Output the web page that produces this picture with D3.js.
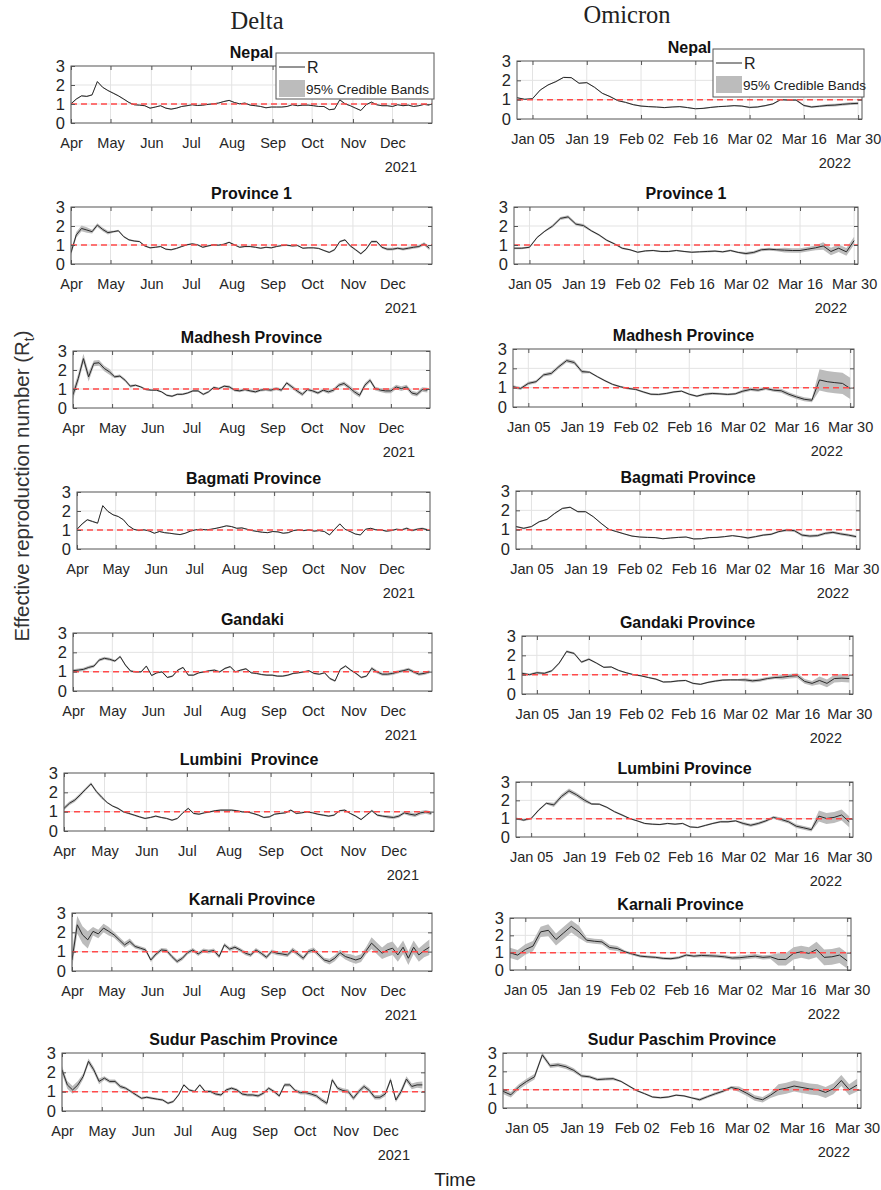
<!DOCTYPE html>
<html>
<head>
<meta charset="utf-8">
<script src="https://cdn.jsdelivr.net/npm/d3@7"></script>
<style>
  body { margin: 0; background: #fff; }
  text { font-family: "Liberation Sans", Arial, sans-serif; }
</style>
</head>
<body>
<svg id="fig" width="881" height="1190"></svg>
<script>
// ---- labels ----
const deltaTitles = ["Nepal", "Province 1", "Madhesh Province", "Bagmati Province", "Gandaki",
  "Lumbini  Province", "Karnali Province", "Sudur Paschim Province"];
const omicronTitles = ["Nepal", "Province 1", "Madhesh Province", "Bagmati Province", "Gandaki Province",
  "Lumbini Province", "Karnali Province", "Sudur Paschim Province"];
const deltaMonthLabels = ["Apr", "May", "Jun", "Jul", "Aug", "Sep", "Oct", "Nov", "Dec"];
const omicronTickLabels = ["Jan 05", "Jan 19", "Feb 02", "Feb 16", "Mar 02", "Mar 16", "Mar 30"];
const yTicks = [0, 1, 2, 3];
const legendLabels = ["R", "95% Credible Bands"];

// ---- Delta wave: R_t every 4 days from 1 Apr 2021 ----
const deltaNepal = [1.01,1.26,1.43,1.40,1.48,2.18,1.88,1.71,1.57,1.43,1.26,1.08,0.96,0.94,0.91,0.78,0.84,0.91,0.78,0.73,0.78,0.87,0.91,0.96,0.92,0.94,0.98,1.01,1.05,1.13,1.19,1.08,1.01,1.05,0.94,0.91,0.87,0.80,0.84,0.84,0.84,0.87,0.96,0.91,0.94,0.94,0.91,0.87,0.87,0.70,0.73,1.22,1.01,0.91,0.78,0.66,0.96,1.10,0.96,0.91,0.91,0.87,0.96,0.91,0.94,0.87,0.91,0.98,0.94];
const deltaP1 = [0.60,1.53,1.87,1.79,1.70,2.05,1.82,1.65,1.70,1.75,1.44,1.27,1.21,1.18,0.95,0.85,0.88,0.92,0.78,0.75,0.82,0.92,1.01,1.06,1.01,0.88,0.95,1.01,0.99,1.04,1.14,1.01,0.88,0.92,0.92,0.88,0.83,0.88,0.85,0.92,0.97,0.99,0.95,0.97,0.83,0.85,0.85,0.82,0.71,0.61,0.75,1.18,1.27,0.95,0.75,0.54,0.78,1.18,1.18,0.88,0.78,0.78,0.83,0.78,0.83,0.88,0.92,1.06,0.83];
const deltaMadhesh = [0.70,1.55,2.60,1.64,2.35,2.38,2.08,1.90,1.64,1.68,1.46,1.15,1.20,1.11,0.97,0.94,0.94,0.85,0.67,0.62,0.72,0.72,0.79,0.90,0.90,0.72,0.85,1.08,1.02,1.15,1.11,0.94,0.90,0.97,0.90,0.85,0.94,0.97,0.94,1.02,0.94,1.32,1.11,0.90,0.72,0.97,0.90,0.79,0.94,0.85,0.94,1.20,1.29,1.08,0.85,0.67,1.20,1.46,1.02,0.94,0.90,0.90,1.11,1.02,1.11,0.79,0.72,0.97,0.94];
const deltaBagmati = [1.04,1.32,1.54,1.45,1.36,2.28,1.98,1.80,1.71,1.54,1.22,1.04,0.97,1.01,0.95,0.83,0.92,0.86,0.83,0.79,0.76,0.83,0.94,1.01,1.04,1.01,1.04,1.09,1.15,1.22,1.18,1.09,1.11,1.04,0.97,0.92,0.88,0.86,0.92,0.90,0.83,0.86,0.97,1.01,0.97,1.01,0.94,0.97,0.92,0.74,1.04,1.32,1.04,0.92,0.79,0.74,1.04,1.09,1.01,1.01,0.94,0.97,1.04,1.01,1.09,0.97,1.04,1.08,1.01];
const deltaGandaki = [1.05,1.08,1.12,1.22,1.29,1.60,1.69,1.64,1.55,1.78,1.34,1.03,0.99,0.99,1.29,0.80,0.94,0.99,0.70,0.77,1.08,1.22,0.82,0.82,0.94,0.99,1.05,1.08,0.99,1.17,1.26,0.99,1.08,1.15,0.94,0.91,0.85,0.82,0.82,0.77,0.77,0.82,0.91,0.94,0.99,1.05,0.91,0.87,0.94,0.65,0.52,1.12,1.29,1.08,0.91,0.70,0.77,1.17,0.99,0.87,0.87,0.91,0.99,1.05,1.12,0.99,0.87,0.91,0.99];
const deltaLumbini = [1.17,1.43,1.60,1.87,2.16,2.44,2.04,1.74,1.47,1.29,1.17,0.99,0.91,0.82,0.73,0.65,0.70,0.77,0.70,0.65,0.56,0.65,0.94,1.17,0.91,0.87,0.94,0.99,1.05,1.08,1.08,1.08,1.05,0.99,0.98,0.91,0.82,0.70,0.73,0.87,0.91,0.94,1.08,0.91,0.94,0.99,0.94,0.87,0.82,0.77,0.82,1.05,1.08,0.91,0.77,0.59,0.82,1.05,0.82,0.77,0.73,0.70,0.77,0.94,0.87,0.82,0.94,0.99,0.91];
const deltaKarnali = [0.57,2.39,1.87,1.61,2.05,1.92,2.22,2.05,1.87,1.61,1.35,1.53,1.27,1.18,1.09,0.57,0.88,1.09,1.06,0.75,0.49,0.66,0.95,1.09,0.88,1.06,1.01,1.06,0.75,1.35,1.13,1.23,1.09,0.92,0.83,1.09,0.92,0.71,1.01,0.92,0.88,0.83,1.09,0.88,0.66,1.01,1.09,0.83,0.57,0.49,0.66,0.95,0.75,0.66,0.57,0.66,1.06,1.44,1.18,0.92,1.09,1.18,0.83,1.23,0.66,1.23,0.83,1.06,1.23];
const deltaSudur = [2.13,1.35,1.09,1.35,1.79,2.57,2.13,1.53,1.70,1.53,1.53,1.27,1.18,1.01,0.83,0.66,0.71,0.66,0.61,0.57,0.40,0.49,0.83,1.35,1.09,1.01,1.35,1.01,1.01,0.88,0.83,1.09,1.18,1.09,0.88,0.83,0.83,0.78,0.92,1.18,1.01,0.78,1.35,1.35,1.06,0.95,0.95,0.88,0.78,0.57,0.40,1.61,1.18,1.06,1.01,0.66,1.01,1.27,1.06,0.71,0.71,0.88,1.61,0.57,1.01,1.65,1.27,1.35,1.35];

// Delta credible-band half widths, one value per 15-day block
const deltaNepalW   = [.03,.03,.03,.03,.03,.03,.03,.03,.03,.03,.03,.03,.03,.03,.03,.03,.03,.03,.03];
const deltaP1W      = [.15,.10,.05,.04,.04,.04,.04,.04,.04,.04,.04,.04,.04,.05,.05,.06,.07,.08,.10];
const deltaMadheshW = [.25,.15,.08,.05,.05,.05,.06,.06,.07,.07,.08,.10,.08,.10,.12,.10,.12,.12,.12];
const deltaBagmatiW = [.04,.03,.03,.03,.03,.03,.03,.03,.03,.03,.03,.03,.03,.03,.03,.03,.04,.05,.05];
const deltaGandakiW = [.08,.08,.06,.04,.04,.04,.04,.04,.04,.04,.04,.04,.04,.05,.05,.08,.08,.08,.08];
const deltaLumbiniW = [.10,.08,.04,.04,.04,.04,.04,.04,.04,.04,.04,.04,.04,.04,.04,.06,.08,.10,.10];
const deltaKarnaliW = [.45,.22,.15,.10,.10,.10,.10,.10,.10,.10,.10,.12,.12,.15,.20,.30,.35,.35,.40];
const deltaSudurW   = [.20,.15,.10,.08,.06,.06,.06,.08,.08,.08,.08,.08,.10,.10,.12,.12,.12,.15,.18];

// ---- Omicron wave: R_t every 2 days from 1 Jan 2022 (Sudur Paschim from 30 Dec 2021) ----
const omiNepal = [1.10,1.02,1.05,1.50,1.76,1.93,2.15,2.14,1.85,1.88,1.64,1.33,1.16,0.95,0.86,0.74,0.67,0.64,0.62,0.59,0.62,0.64,0.59,0.53,0.55,0.60,0.64,0.66,0.69,0.67,0.60,0.62,0.69,0.78,1.00,0.98,0.98,0.70,0.62,0.66,0.70,0.72,0.76,0.79,0.81];
const omiP1 = [0.83,0.83,0.88,1.40,1.73,2.00,2.40,2.48,2.10,2.02,1.75,1.53,1.25,1.06,0.83,0.75,0.62,0.69,0.71,0.66,0.66,0.71,0.66,0.62,0.64,0.66,0.68,0.64,0.71,0.61,0.55,0.61,0.75,0.78,0.75,0.73,0.71,0.71,0.78,0.85,0.95,0.66,0.83,0.64,1.23];
const omiMadhesh = [1.05,0.96,1.22,1.31,1.66,1.74,2.09,2.40,2.30,1.83,1.80,1.57,1.36,1.17,1.05,0.96,0.91,0.78,0.66,0.65,0.70,0.78,0.82,0.66,0.56,0.66,0.70,0.68,0.65,0.68,0.82,0.91,0.87,0.96,0.87,0.84,0.66,0.52,0.40,0.35,1.40,1.31,1.26,1.22,0.96];
const omiBagmati = [1.16,1.07,1.16,1.41,1.53,1.84,2.10,2.16,1.93,1.93,1.67,1.33,1.02,0.90,0.78,0.67,0.62,0.60,0.59,0.53,0.57,0.60,0.62,0.52,0.53,0.59,0.60,0.64,0.69,0.64,0.57,0.64,0.72,0.76,0.90,0.98,0.95,0.72,0.67,0.69,0.81,0.86,0.78,0.72,0.64];
const omiGandaki = [1.07,1.00,1.10,1.07,1.20,1.60,2.20,2.10,1.65,1.80,1.60,1.38,1.40,1.22,1.10,1.00,0.94,0.85,0.77,0.62,0.63,0.68,0.70,0.55,0.50,0.60,0.67,0.72,0.73,0.73,0.73,0.68,0.72,0.80,0.85,0.87,0.92,0.95,0.65,0.55,0.70,0.55,0.80,0.82,0.80];
const omiLumbini = [1.01,0.92,1.01,1.47,1.84,1.75,2.21,2.52,2.30,2.02,1.80,1.79,1.62,1.38,1.20,1.01,0.88,0.74,0.70,0.68,0.74,0.70,0.74,0.55,0.52,0.63,0.74,0.83,0.83,0.88,0.74,0.64,0.74,0.88,1.07,0.96,0.83,0.59,0.50,0.40,1.14,1.01,1.07,1.20,0.83];
const omiKarnali = [0.99,0.86,1.18,1.38,2.20,2.29,1.76,2.14,2.52,2.20,1.72,1.66,1.62,1.30,1.24,1.05,0.92,0.80,0.76,0.73,0.67,0.65,0.71,0.86,0.80,0.84,0.82,0.80,0.76,0.69,0.71,0.76,0.80,0.73,0.76,0.61,0.61,0.96,1.05,0.96,1.18,0.73,0.76,0.86,0.53];
const omiSudur = [0.91,0.72,1.15,1.45,1.70,2.90,2.30,2.35,2.25,2.05,1.75,1.70,1.55,1.58,1.60,1.45,1.20,0.95,0.78,0.60,0.56,0.60,0.70,0.66,0.55,0.45,0.62,0.78,0.92,1.12,1.02,0.80,0.55,0.45,0.70,1.00,1.08,1.20,1.12,1.04,1.00,0.85,1.05,1.50,1.00,1.25];

// Omicron credible-band half widths, one value per 10-day block
const omiNepalW   = [.03,.03,.03,.03,.03,.03,.04,.05,.07];
const omiP1W      = [.05,.08,.05,.04,.04,.05,.08,.12,.20];
const omiMadheshW = [.08,.10,.05,.05,.05,.06,.08,.10,.55];
const omiBagmatiW = [.04,.04,.03,.03,.03,.03,.05,.07,.07];
const omiGandakiW = [.06,.06,.04,.04,.04,.05,.08,.12,.20];
const omiLumbiniW = [.06,.12,.05,.04,.04,.05,.08,.10,.30];
const omiKarnaliW = [.30,.35,.15,.08,.08,.10,.12,.35,.45];
const omiSudurW   = [.15,.12,.08,.05,.05,.08,.15,.30,.30,.35];

const deltaSeries = [deltaNepal, deltaP1, deltaMadhesh, deltaBagmati, deltaGandaki, deltaLumbini, deltaKarnali, deltaSudur];
const deltaWidths = [deltaNepalW, deltaP1W, deltaMadheshW, deltaBagmatiW, deltaGandakiW, deltaLumbiniW, deltaKarnaliW, deltaSudurW];
const omiSeries = [omiNepal, omiP1, omiMadhesh, omiBagmati, omiGandaki, omiLumbini, omiKarnali, omiSudur];
const omiWidths = [omiNepalW, omiP1W, omiMadheshW, omiBagmatiW, omiGandakiW, omiLumbiniW, omiKarnaliW, omiSudurW];

// ---- layout: plot boxes [left, right, top, bottom] ----
const deltaBoxes = [[71,432,66,123],[71,432,207,264],[73,430,351,408],[77,430,492,549],
  [73,432,633,691],[64,434,773,831],[72,432,913,971],[62,425,1053,1111]];
const omiBoxes = [[517,862,61,119],[514,858,207,264],[513,854,349,407],[516,860,491,549],
  [522,853,636,694],[516,853,782,837],[510,851,918,970],[503,861,1053,1108]];

const deltaStart = new Date(2021, 3, 1), deltaEnd = new Date(2021, 11, 31);
const omiStart = new Date(2022, 0, 1), omiEnd = new Date(2022, 2, 31);
const omiSudurStart = new Date(2021, 11, 30);
const deltaTicks = d3.timeMonth.range(new Date(2021, 3, 1), new Date(2021, 11, 2));
const omiTicks = d3.timeDay.range(new Date(2022, 0, 5), new Date(2022, 2, 31), 14);

const svg = d3.select("#fig");
const defs = svg.append("defs");
const axisColor = "#555";
let clipCount = 0;

function drawPanel(box, title, vals, wids, start, end, step, block, ticks, labels, year, yearOffset) {
  const [x0, x1, y0, y1] = box;
  const x = d3.scaleTime().domain([start, end]).range([x0, x1]);
  const y = d3.scaleLinear().domain([0, 3]).range([y1, y0]);
  const g = svg.append("g");
  const cid = "clip" + (clipCount++);
  defs.append("clipPath").attr("id", cid).append("rect")
    .attr("x", x0).attr("y", y0).attr("width", x1 - x0).attr("height", y1 - y0);

  // grid
  g.append("g").selectAll("line").data(ticks).join("line")
    .attr("x1", d => x(d)).attr("x2", d => x(d)).attr("y1", y0).attr("y2", y1)
    .attr("stroke", "#e3e3e3").attr("stroke-width", 1);
  g.append("g").selectAll("line").data([1, 2]).join("line")
    .attr("x1", x0).attr("x2", x1).attr("y1", d => y(d)).attr("y2", d => y(d))
    .attr("stroke", "#e3e3e3").attr("stroke-width", 1);

  const pts = vals.map((v, i) => ({
    t: d3.timeDay.offset(start, step * i), v, w: wids[Math.floor(step * i / block)]
  }));
  const plot = g.append("g").attr("clip-path", `url(#${cid})`);
  plot.append("path").datum(pts)
    .attr("d", d3.area().x(d => x(d.t)).y0(d => y(d.v - d.w)).y1(d => y(d.v + d.w)))
    .attr("fill", "#bcbcbc");
  plot.append("path").datum(pts)
    .attr("d", d3.line().x(d => x(d.t)).y(d => y(d.v)))
    .attr("fill", "none").attr("stroke", "#2a2a2a").attr("stroke-width", 1);
  plot.append("line").attr("x1", x0).attr("x2", x1).attr("y1", y(1)).attr("y2", y(1))
    .attr("stroke", "#ff4a4a").attr("stroke-width", 1.5).attr("stroke-dasharray", "6,4");

  // axes with inward ticks
  const styleAxis = a => {
    a.attr("font-family", null).attr("font-size", null);
    a.select(".domain").remove();
    a.selectAll(".tick line").attr("stroke", axisColor);
    a.selectAll(".tick text").attr("fill", "#262626");
  };
  g.append("g").attr("transform", `translate(0,${y1})`)
    .call(d3.axisBottom(x).tickValues(ticks).tickFormat((d, i) => labels[i])
      .tickSizeInner(-4).tickSizeOuter(0).tickPadding(15))
    .call(styleAxis).selectAll("text").attr("font-size", 14.5);
  g.append("g").attr("transform", `translate(0,${y0})`)
    .call(d3.axisTop(x).tickValues(ticks).tickFormat("").tickSizeInner(-4).tickSizeOuter(0))
    .call(styleAxis);
  g.append("g").attr("transform", `translate(${x0},0)`)
    .call(d3.axisLeft(y).tickValues(yTicks).tickFormat(d3.format("d"))
      .tickSizeInner(-4).tickSizeOuter(0).tickPadding(6))
    .call(styleAxis).selectAll("text").attr("font-size", 16.5);
  g.append("g").attr("transform", `translate(${x1},0)`)
    .call(d3.axisRight(y).tickValues(yTicks).tickFormat("").tickSizeInner(-4).tickSizeOuter(0))
    .call(styleAxis);

  g.append("rect").attr("x", x0).attr("y", y0).attr("width", x1 - x0).attr("height", y1 - y0)
    .attr("fill", "none").attr("stroke", axisColor).attr("stroke-width", 1);

  g.append("text").attr("x", (x0 + x1) / 2).attr("y", y0 - 8)
    .attr("text-anchor", "middle").attr("font-size", 16).attr("font-weight", "bold")
    .attr("fill", "#111").style("white-space", "pre").text(title);

  g.append("text").attr("x", x1 - yearOffset).attr("y", y1 + 49)
    .attr("text-anchor", "end").attr("font-size", 14.5).attr("fill", "#262626").text(year);
}

deltaSeries.forEach((s, i) => drawPanel(deltaBoxes[i], deltaTitles[i], s, deltaWidths[i],
  deltaStart, deltaEnd, 4, 15, deltaTicks, deltaMonthLabels, "2021", 15));
omiSeries.forEach((s, i) => drawPanel(omiBoxes[i], omicronTitles[i], s, omiWidths[i],
  i === 7 ? omiSudurStart : omiStart, omiEnd, 2, 10, omiTicks, omicronTickLabels, "2022", 11));

// legends on the national panels
function legend(lx, ly, w, h) {
  const g = svg.append("g");
  g.append("rect").attr("x", lx).attr("y", ly).attr("width", w).attr("height", h)
    .attr("fill", "#fff").attr("stroke", axisColor).attr("stroke-width", 1);
  g.append("line").attr("x1", lx + 3).attr("x2", lx + 29).attr("y1", ly + 14).attr("y2", ly + 14)
    .attr("stroke", "#2a2a2a").attr("stroke-width", 1);
  g.append("text").attr("x", lx + 31).attr("y", ly + 20).attr("font-size", 16)
    .attr("fill", "#222").text(legendLabels[0]);
  g.append("rect").attr("x", lx + 3).attr("y", ly + 27).attr("width", 26).attr("height", 17)
    .attr("fill", "#bcbcbc");
  g.append("text").attr("x", lx + 30).attr("y", ly + 41).attr("font-size", 13.5)
    .attr("fill", "#222").text(legendLabels[1]);
}
legend(276, 53, 158, 46);
legend(713, 49, 151, 48);

// column headings
svg.append("text").attr("x", 257).attr("y", 29).attr("text-anchor", "middle")
  .attr("font-size", 24.5).attr("fill", "#222")
  .style("font-family", "'Liberation Serif', 'Times New Roman', serif").text("Delta");
svg.append("text").attr("x", 627).attr("y", 23).attr("text-anchor", "middle")
  .attr("font-size", 24.5).attr("fill", "#222")
  .style("font-family", "'Liberation Serif', 'Times New Roman', serif").text("Omicron");

// shared axis titles
const yl = svg.append("text").attr("transform", "translate(29,486) rotate(-90)")
  .attr("text-anchor", "middle").attr("font-size", 20.5).attr("fill", "#333");
yl.append("tspan").text("Effective reproduction number (R");
yl.append("tspan").attr("font-size", 14).attr("dy", 5).text("t");
yl.append("tspan").attr("dy", -5).text(")");

svg.append("text").attr("x", 455).attr("y", 1186).attr("text-anchor", "middle")
  .attr("font-size", 19).attr("fill", "#222").text("Time");
</script>
</body>
</html>
